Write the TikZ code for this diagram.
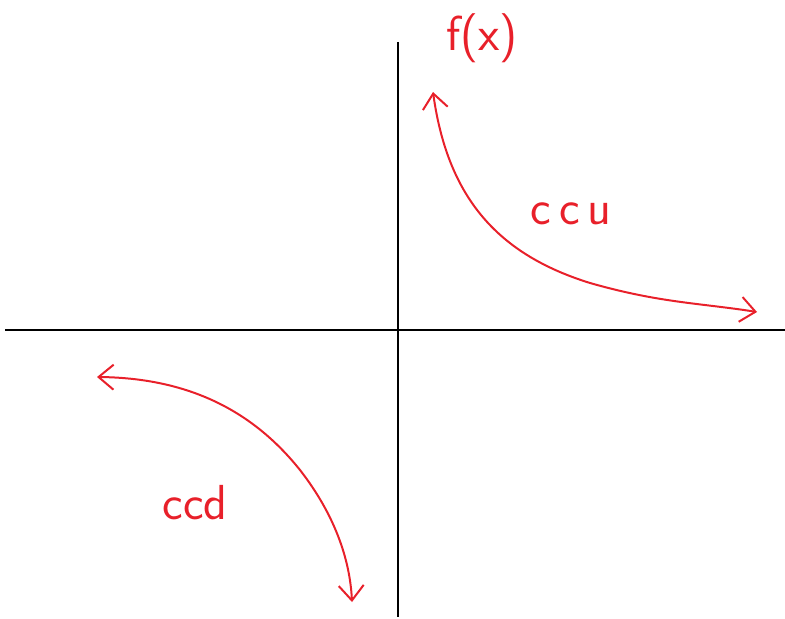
\documentclass[tikz,border=0pt]{standalone}
\usepackage{xcolor}
\usepackage{tikz}
\usetikzlibrary{arrows.meta}
\definecolor{pen}{HTML}{E8202A}
\tikzset{
  axis/.style={draw=black, line width=1.5pt},
  sketch/.style={{Straight Barb[length=4.5mm,width=7.5mm]}-{Straight Barb[length=4.5mm,width=7.5mm]}, draw=pen, line width=1.7pt, line cap=round},
  lab/.style ={text=pen, inner sep=0pt, font=\sffamily\fontsize{42}{46}\selectfont},
}

\begin{document}
\begin{tikzpicture}[x=0.03cm, y=-0.03cm]
        \useasboundingbox (0,0) rectangle (785,619);
        % axes
        \coordinate (xl) at (5,330);
        \coordinate (xr) at (785,330);
        \coordinate (yt) at (398,42);
        \coordinate (yb) at (398,617);
        \draw[axis] (xl) -- (xr);
        \draw[axis] (yt) -- (yb);
        % concave up branch
        \coordinate (upA) at (433,92);
        \coordinate (upM) at (590,283);
        \coordinate (upB) at (757,312);
        \draw[sketch] (upA) .. controls (448,200) and (500,255) .. (upM)
                      .. controls (660,303) and (700,303) .. (upB);
        % concave down branch
        \coordinate (dnA) at (97,377);
        \coordinate (dnM) at (300,470);
        \coordinate (dnB) at (352,602);
        \draw[sketch] (dnA) .. controls (200,378) and (260,420) .. (dnM)
                      .. controls (335,515) and (350,560) .. (dnB);
        \node[lab] (fx)  at (482,38)  {f(x)};
        \node[lab] (ccu) at (571,214) {c\,c\,u};
        \node[lab] (ccd) at (195,503) {ccd};
      \end{tikzpicture}
\end{document}
